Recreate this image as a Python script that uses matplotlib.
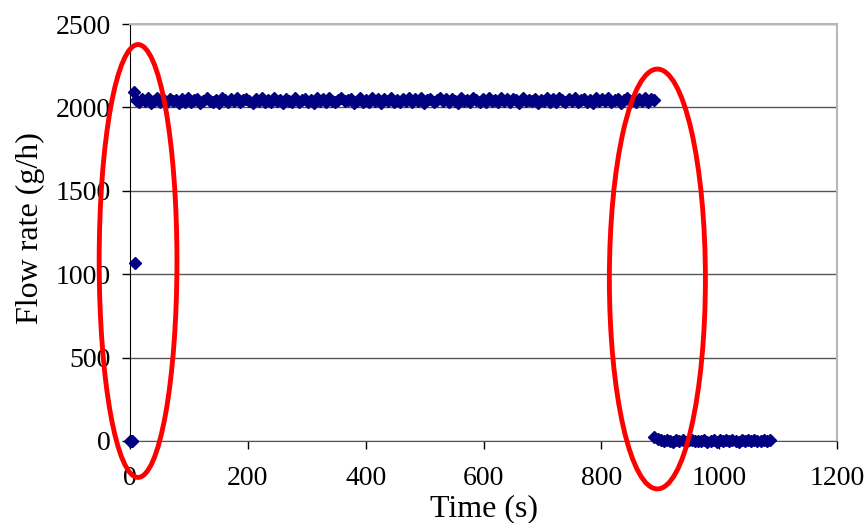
import numpy as np
import matplotlib.pyplot as plt
from matplotlib.patches import Ellipse

# start-up points (t in s, flow in g/h)
early_t = [0, 1, 2, 3, 4, 7, 9]
early_flow = [0, 2, 0, 1, 0, 2092, 1067]

# steady flow, sampled from 10 s to 890 s
high_flow = [
    2043, 2031, 2050, 2036, 2055, 2028, 2041, 2057, 2034, 2046, 2030, 2053, 2038, 2044, 2027,
    2049, 2035, 2056, 2032, 2042, 2051, 2029, 2039, 2058, 2040, 2033, 2047, 2026, 2054, 2043,
    2031, 2048, 2037, 2056, 2030, 2045, 2052, 2036, 2028, 2050, 2041, 2058, 2034, 2044, 2032,
    2055, 2038, 2047, 2029, 2051, 2040, 2035, 2057, 2031, 2045, 2053, 2033, 2042, 2027, 2056,
    2039, 2049, 2032, 2054, 2041, 2030, 2047, 2058, 2036, 2043, 2052, 2028, 2038, 2056, 2034,
    2046, 2031, 2055, 2040, 2049, 2026, 2053, 2037, 2058, 2035, 2044, 2030, 2051, 2041, 2054,
    2032, 2048, 2038, 2057, 2029, 2045, 2052, 2034, 2043, 2056, 2036, 2049, 2031, 2053, 2040,
    2028, 2055, 2037, 2047, 2033, 2057, 2042, 2035, 2051, 2030, 2054, 2041, 2046, 2034, 2058,
    2038, 2049, 2032, 2052, 2043, 2029, 2056, 2036, 2047, 2040, 2053, 2027, 2045, 2037, 2057,
    2034, 2050, 2031, 2054, 2042, 2035, 2048, 2039, 2056, 2030, 2046, 2052, 2033, 2044, 2028,
    2055, 2038, 2049, 2036, 2057, 2032, 2045, 2051, 2029, 2043, 2054, 2037, 2047, 2031, 2052,
    2040, 2056, 2034, 2048, 2042,
]
high_t = np.linspace(10, 890, len(high_flow))

# after shut-off, 890 s to 1086 s
low_flow = [22, 9, 4, -3, 6, 1, -5, 7, 0, 3, -6, 4, 8, -2, 2, 0, 6, -4,
            1, 7, -5, 3, 0, 5, -2, 6, 1, -4, 4, 0, 7, -2, 3, 1, -3, 5, 0, 4]
low_t = np.linspace(890, 1086, len(low_flow))

t = np.concatenate([early_t, high_t, low_t])
flow = np.concatenate([early_flow, high_flow, low_flow])

plt.rcParams['font.family'] = ['Liberation Serif', 'DejaVu Serif']

fig = plt.figure(figsize=(8.67, 5.23), dpi=100)
ax = fig.add_axes([0.150, 0.157, 0.8155, 0.797])

ax.plot(t, flow, linestyle='none', marker='D', markersize=6, color='#000080',
        markeredgewidth=1.0, zorder=3, clip_on=False)

ax.set_xlim(0, 1200)
ax.set_ylim(0, 2500)
ax.set_xticks([0, 200, 400, 600, 800, 1000, 1200])
ax.set_yticks([0, 500, 1000, 1500, 2000, 2500])
ax.grid(axis='y', color='#555555', linewidth=1)
ax.set_axisbelow(True)

for s in ['top', 'right']:
    ax.spines[s].set_color('#b8b8b8')
    ax.spines[s].set_linewidth(1.5)
ax.spines['left'].set_color('black')
ax.spines['bottom'].set_color('#555555')

ax.tick_params(axis='both', direction='out', length=6, width=1, labelsize=20)
ax.tick_params(axis='x', pad=12)
ax.tick_params(axis='y', pad=8)

ax.set_xlabel('Time (s)', fontsize=23)
ax.set_ylabel('Flow rate (g/h)', fontsize=23)
ax.xaxis.set_label_coords(0.5, -0.128)
ax.yaxis.set_label_coords(-0.12, 0.51)

# red highlight ellipses
for cx, cy, w, h in [(13.6, 1079, 132, 2596), (895, 971, 163, 2518)]:
    ax.add_patch(Ellipse((cx, cy), w, h, fill=False, edgecolor='red',
                         linewidth=3.5, clip_on=False, zorder=4))

fig.savefig('out.png', dpi=100)
